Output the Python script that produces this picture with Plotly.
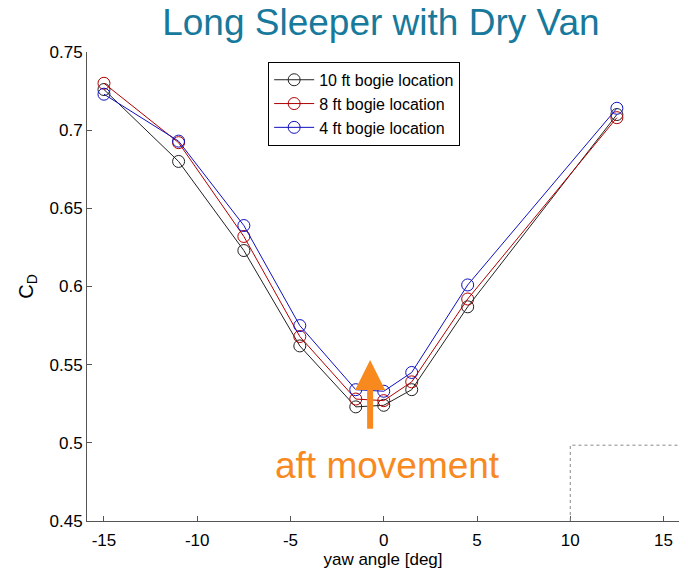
import plotly.graph_objects as go

# Yaw angles (deg) and drag coefficients for each bogie location
yaw = [-15, -11, -7.5, -4.5, -1.5, 0, 1.5, 4.5, 12.5]
cd_10ft = [0.726, 0.680, 0.623, 0.562, 0.523, 0.524, 0.534, 0.587, 0.710]
cd_8ft = [0.730, 0.692, 0.632, 0.568, 0.528, 0.527, 0.539, 0.592, 0.708]
cd_4ft = [0.723, 0.693, 0.639, 0.575, 0.534, 0.533, 0.545, 0.601, 0.714]

series_names = ["10 ft bogie location", "8 ft bogie location", "4 ft bogie location"]
series_colors = ["#222222", "#b00000", "#1010c0"]

x_ticks = [-15, -10, -5, 0, 5, 10, 15]
x_tick_text = ["-15", "-10", "-5", "0", "5", "10", "15"]
y_ticks = [0.45, 0.5, 0.55, 0.6, 0.65, 0.7, 0.75]
y_tick_text = ["0.45", "0.5", "0.55", "0.6", "0.65", "0.7", "0.75"]

fig = go.Figure()
for name, vals, col in zip(series_names, [cd_10ft, cd_8ft, cd_4ft], series_colors):
    fig.add_trace(go.Scatter(
        x=yaw, y=vals, name=name, mode="lines+markers",
        line=dict(color=col, width=1),
        marker=dict(symbol="circle-open", size=12, color=col, line=dict(width=1, color=col)),
    ))

# Orange arrow marking the aft movement
fig.add_annotation(
    x=-0.73, y=0.553, ax=-0.73, ay=0.508, xref="x", yref="y", axref="x", ayref="y",
    showarrow=True, arrowhead=2, arrowsize=1, arrowwidth=6, arrowcolor="#f7891f", text="",
)
fig.add_annotation(
    x=0.2, y=0.4856, xref="x", yref="y", showarrow=False,
    text="aft movement", font=dict(family="Liberation Sans, Arial", size=37, color="#f7891f"),
)

# Faint dotted box in the lower right of the axes
fig.add_shape(type="path", path="M 10,0.45 L 10,0.4985 L 16,0.4985",
              xref="x", yref="y", line=dict(color="#888888", width=1, dash="dot"))

fig.update_layout(
    width=679, height=573,
    margin=dict(l=87, r=0, t=52, b=52),
    paper_bgcolor="white", plot_bgcolor="white",
    font=dict(family="Liberation Sans, Arial", size=17, color="black"),
    title=dict(text="Long Sleeper with Dry Van", x=0.561, xanchor="center", y=0.962, yanchor="middle",
               font=dict(family="Liberation Sans, Arial", size=37, color="#17799b")),
    showlegend=True,
    legend=dict(x=0.306, y=0.979, xanchor="left", yanchor="top",
                bgcolor="white", bordercolor="black", borderwidth=1,
                font=dict(size=16, color="black"), itemwidth=40),
    xaxis=dict(range=[-15.91, 15.83], tickvals=x_ticks, ticktext=x_tick_text,
               showgrid=False, zeroline=False, showline=True, linecolor="#555555", linewidth=1,
               ticks="inside", ticklen=5, tickcolor="#555555", ticklabelstandoff=4,
               title=dict(text="yaw angle [deg]", font=dict(size=17), standoff=3),
               tickfont=dict(size=17)),
    yaxis=dict(range=[0.45, 0.75], tickvals=y_ticks, ticktext=y_tick_text,
               showgrid=False, zeroline=False, showline=True, linecolor="#555555", linewidth=1,
               ticks="inside", ticklen=5, tickcolor="#555555",
               title=dict(text="C<sub>D</sub>", font=dict(size=20), standoff=10),
               tickfont=dict(size=17)),
)

fig.write_html("out.html")
